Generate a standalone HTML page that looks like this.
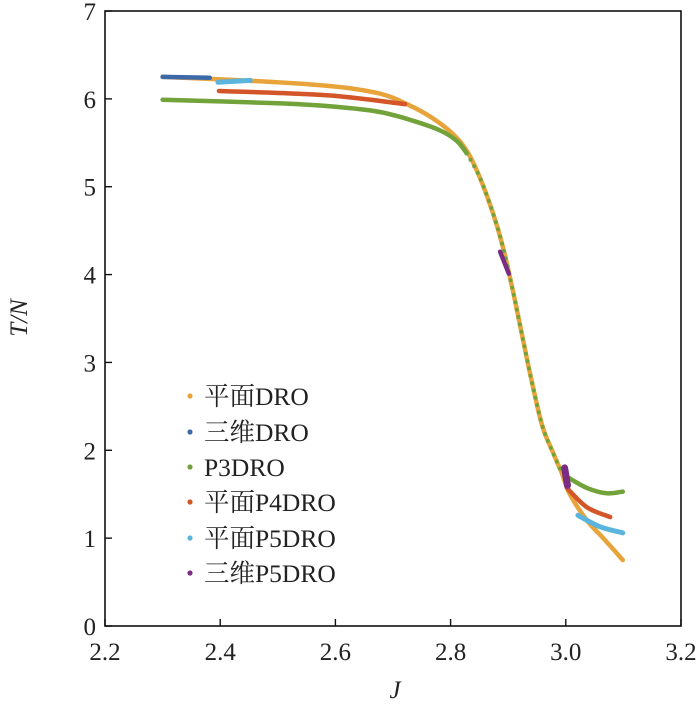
<!DOCTYPE html>
<html><head><meta charset="utf-8"><style>
body{margin:0;background:#fff}
text{font-family:"Liberation Serif","Noto Serif CJK SC",serif;fill:#222}
</style></head><body>
<svg id="c" width="700" height="703" xmlns="http://www.w3.org/2000/svg"></svg>
<script>
const xTicks=[2.2,2.4,2.6,2.8,3.0,3.2];
const xTickLabels=["2.2","2.4","2.6","2.8","3.0","3.2"];
const yTicks=[0,1,2,3,4,5,6,7];
const seriesNames=["平面DRO","三维DRO","P3DRO","平面P4DRO","平面P5DRO","三维P5DRO"];
const seriesColors=["#e8a33a","#3c6aa8","#72a23a","#d35528","#5ab4dc","#7a2d82"];
const orangeJ=[2.30,2.469,2.60,2.677,2.724,2.769,2.804,2.828,2.851,2.874,2.891,2.908,2.926,2.943,2.960,2.978,2.993,3.007,3.037,3.065,3.099];
const orangeV=[6.25,6.20,6.14,6.06,5.94,5.78,5.60,5.41,5.10,4.69,4.31,3.82,3.25,2.72,2.26,1.97,1.74,1.50,1.20,1.00,0.75];
const blueJ=[2.30,2.382];
const blueV=[6.25,6.24];
const greenFlatJ=[2.30,2.50,2.60,2.677,2.735,2.782,2.811,2.828];
const greenFlatV=[5.99,5.95,5.91,5.85,5.75,5.64,5.52,5.38];
const greenSteepJ=[2.828,2.851,2.874,2.891,2.908,2.926,2.943,2.960,2.978,2.993];
const greenSteepV=[5.38,5.10,4.69,4.31,3.82,3.25,2.72,2.26,1.97,1.74];
const greenTailJ=[3.004,3.037,3.071,3.099];
const greenTailV=[1.69,1.57,1.51,1.53];
const redTopJ=[2.398,2.585,2.721];
const redTopV=[6.09,6.04,5.94];
const redBotJ=[3.002,3.037,3.077];
const redBotV=[1.57,1.35,1.24];
const lbTopJ=[2.396,2.452];
const lbTopV=[6.19,6.21];
const lbBotJ=[3.021,3.059,3.099];
const lbBotV=[1.26,1.13,1.06];
const purTopJ=[2.886,2.901];
const purTopV=[4.26,4.01];
const purBotJ=[2.998,3.003];
const purBotV=[1.80,1.60];

const NS="http://www.w3.org/2000/svg";
const svg=document.getElementById('c');
const X0=105,X1=681,Y0=626,Y1=11;
const sx=j=>X0+(j-2.2)/(1.0)*(X1-X0);
const sy=v=>Y0-v/7*(Y0-Y1);
function mk(t,a){const e=document.createElementNS(NS,t);for(const k in a)e.setAttribute(k,a[k]);svg.appendChild(e);return e;}
function smooth(P){
  if(P.length<3)return P.map((p,i)=>(i?'L':'M')+p[0].toFixed(1)+','+p[1].toFixed(1)).join('');
  let d='M'+P[0][0].toFixed(1)+','+P[0][1].toFixed(1);
  for(let i=0;i<P.length-1;i++){
    const p0=P[Math.max(0,i-1)],p1=P[i],p2=P[i+1],p3=P[Math.min(P.length-1,i+2)];
    const c1=[p1[0]+(p2[0]-p0[0])/6,p1[1]+(p2[1]-p0[1])/6];
    const c2=[p2[0]-(p3[0]-p1[0])/6,p2[1]-(p3[1]-p1[1])/6];
    d+='C'+c1[0].toFixed(1)+','+c1[1].toFixed(1)+' '+c2[0].toFixed(1)+','+c2[1].toFixed(1)+' '+p2[0].toFixed(1)+','+p2[1].toFixed(1);
  }
  return d;
}
function line(J,V,color,name,w,dash){
  const P=J.map((j,i)=>[sx(j),sy(V[i])]);
  const p=mk('path',{d:smooth(P),fill:'none',stroke:color,'stroke-width':w,'stroke-linecap':'round','stroke-linejoin':'round'});
  if(dash)p.setAttribute('stroke-dasharray',dash);
  
  
}
const fr=mk('rect',{x:X0,y:Y1,width:X1-X0,height:Y0-Y1,fill:'none',stroke:'#111','stroke-width':1.6});


xTicks.forEach((t,i)=>{
  const tk=mk('line',{x1:sx(t),x2:sx(t),y1:Y0,y2:Y0-7,stroke:'#111','stroke-width':1.4});
  
  
  const tx=mk('text',{x:sx(t),y:Y0+34,'font-size':25,'text-anchor':'middle'});tx.textContent=xTickLabels[i];
  
  
});
yTicks.forEach(t=>{
  const tk=mk('line',{x1:X0,x2:X0+7,y1:sy(t),y2:sy(t),stroke:'#111','stroke-width':1.4});
  
  
  const tx=mk('text',{x:X0-9,y:sy(t)+9,'font-size':25,'text-anchor':'end'});tx.textContent=String(t);
  
  
});
const xt=mk('text',{x:395,y:698,'font-size':25,'font-style':'italic','text-anchor':'middle'});xt.textContent='J';


const yt=mk('text',{x:0,y:0,'font-size':25,'font-style':'italic','text-anchor':'middle',transform:'translate(27,318) rotate(-90)'});yt.textContent='T/N';


line(orangeJ,orangeV,seriesColors[0],'series-planar-dro',4.5);
line(greenFlatJ,greenFlatV,seriesColors[2],'series-p3dro',4.5);
line(greenSteepJ,greenSteepV,seriesColors[2],'series-p3dro-dotted',4,'0 7.5');
line(greenTailJ,greenTailV,seriesColors[2],'series-p3dro-tail',4.5);
line(redTopJ,redTopV,seriesColors[3],'series-planar-p4dro',4.5);
line(redBotJ,redBotV,seriesColors[3],'series-planar-p4dro-low',4.5);
line(lbTopJ,lbTopV,seriesColors[4],'series-planar-p5dro',5);
line(lbBotJ,lbBotV,seriesColors[4],'series-planar-p5dro-low',5);
line(blueJ,blueV,seriesColors[1],'series-3d-dro',4.5);
line(purTopJ,purTopV,seriesColors[5],'series-3d-p5dro',4.5);
line(purBotJ,purBotV,seriesColors[5],'series-3d-p5dro-low',7);
const ly=[396,432,467,502,538,573];
seriesNames.forEach((n,i)=>{
  const g=mk('g',{});
  
  
  const c=document.createElementNS(NS,'circle');c.setAttribute('cx',190);c.setAttribute('cy',ly[i]);c.setAttribute('r',2.6);c.setAttribute('fill',seriesColors[i]);g.appendChild(c);
  const t=document.createElementNS(NS,'text');t.setAttribute('x',204);t.setAttribute('y',ly[i]+9);t.setAttribute('font-size',25.5);t.textContent=n;g.appendChild(t);
});
</script>
</body></html>
